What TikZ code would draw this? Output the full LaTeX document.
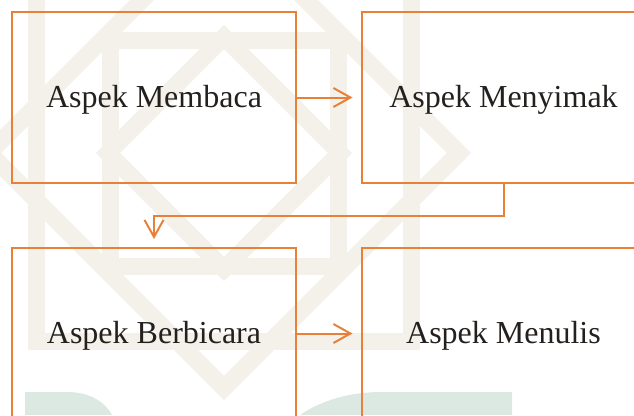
\documentclass[tikz,border=0pt]{standalone}
\usepackage{fontspec}
\setmainfont{Liberation Serif}
\usetikzlibrary{arrows.meta}
\definecolor{linkorange}{RGB}{232,128,56}
\definecolor{inkgray}{RGB}{35,32,30}
\definecolor{seal}{RGB}{244,241,235}
\definecolor{sealteal}{RGB}{220,232,226}
\tikzset{
  aspect/.style={draw=linkorange, line width=2pt, minimum width=284pt,
    minimum height=171pt, inner sep=0pt, text=inkgray,
    font=\fontsize{32}{36}\selectfont, text height=24pt, text depth=5pt},
  flow/.style={draw=linkorange, line width=2pt, shorten >=8pt,
    -{Straight Barb[length=17pt,width=19pt]}},
  band/.style={draw=seal, line width=17pt, line join=miter}
}
\begin{document}
\begin{tikzpicture}[x=1pt,y=-1pt]
\useasboundingbox (0,0) rectangle (634,415);
\clip (0,0) rectangle (634,415);
% faint emblem in the background
\draw[band] (36,-35) rectangle (411,341);
\draw[band] (459,153) -- (224,-82) -- (-11,153) -- (224,388) -- cycle;
\draw[band] (340,153) -- (224,37) -- (108,153) -- (224,269) -- cycle;
\draw[band] (110,40) rectangle (338,266);
\fill[sealteal] (25,415) -- (25,392) -- (67,392)
  .. controls (90,392) and (105,402) .. (112,415) -- cycle;
\fill[sealteal] (300,415) .. controls (322,400) and (350,392) .. (382,392)
  -- (512,392) -- (512,415) -- cycle;
% the four aspects
\node[aspect] (baca)  at (154,97.5)   {Aspek Membaca};
\node[aspect] (simak) at (503.5,97.5) {Aspek Menyimak};
\node[aspect] (bicara) at (154,333.5) {Aspek Berbicara};
\node[aspect] (tulis) at (503.5,333.5) {Aspek Menulis};
% connectors
\draw[flow] (baca.east) -- (simak.west);
\draw[flow] (simak.south) -- ++(0,32) -| (bicara.north);
\draw[flow] (bicara.east) -- (tulis.west);
\end{tikzpicture}
\end{document}
